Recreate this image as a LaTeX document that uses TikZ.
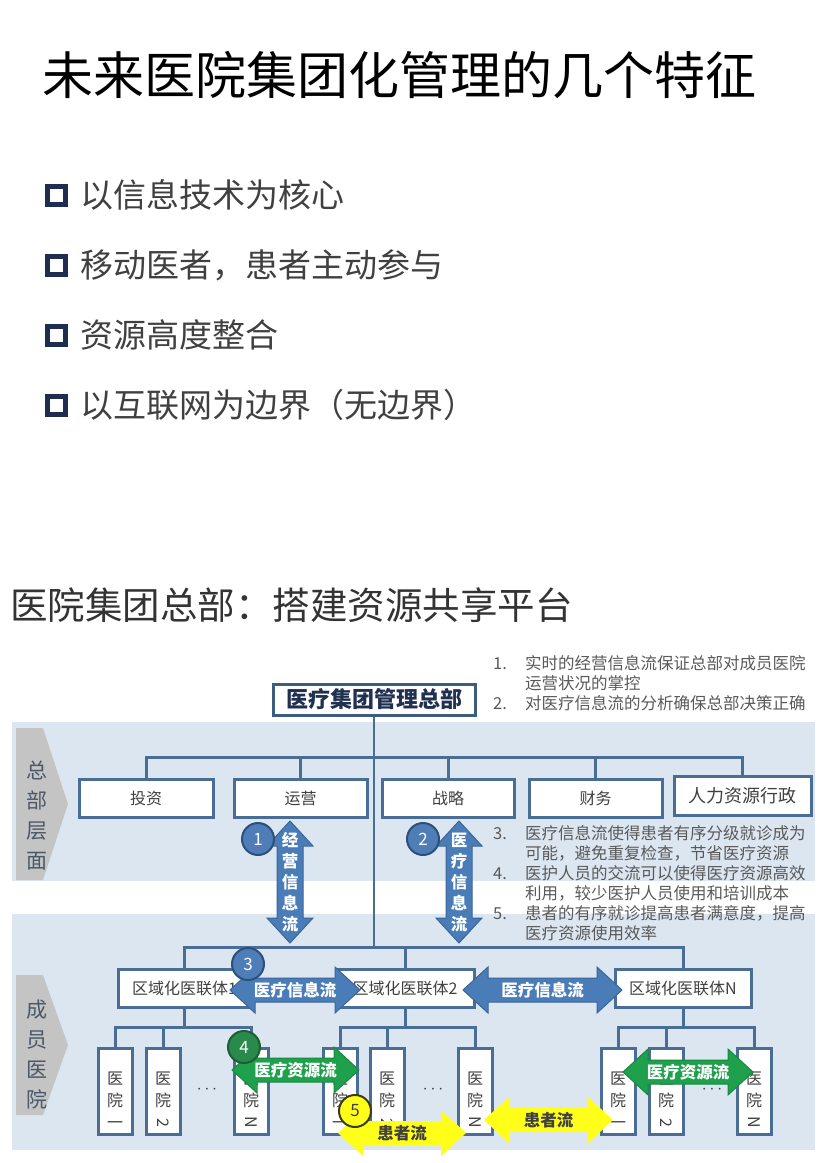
\documentclass[tikz,border=0pt]{standalone}
\usepackage{fontspec}
\setmainfont{Noto Sans CJK SC}
\definecolor{boxblue}{HTML}{4A6D96}
\definecolor{hqblue}{HTML}{3E5C7E}
\definecolor{hqtext}{HTML}{1F3050}
\definecolor{bandcol}{HTML}{DCE6F1}
\definecolor{chevcol}{HTML}{C4C4C4}
\definecolor{chevtxt}{HTML}{4A5868}
\definecolor{infoblue}{HTML}{4A7CB8}
\definecolor{infoedge}{HTML}{3A6699}
\definecolor{badgeblue}{HTML}{4E7DB8}
\definecolor{badgeedge}{HTML}{2D4F7A}
\definecolor{resgreen}{HTML}{1FA04C}
\definecolor{resedge}{HTML}{178A3E}
\definecolor{badgegreen}{HTML}{2A8A4C}
\definecolor{badgegedge}{HTML}{1B5E33}
\definecolor{patyellow}{HTML}{FFFF1A}
\definecolor{badgeyedge}{HTML}{3C3C14}
\definecolor{txtgray}{HTML}{404040}
\definecolor{notegray}{HTML}{595959}
\definecolor{navy}{HTML}{1F2D50}
\newcommand\fsz[2]{\fontsize{#1}{#2}\selectfont}
\newcommand\sideways[1]{\rotatebox[origin=c]{-90}{#1}}
% horizontal double arrow: name, x1, x2, y, style, label
\newcommand\flowH[6]{%
  \path[#5] (#2,#4) -- (#2+25,#4-23) -- (#2+25,#4-12) -- (#3-25,#4-12) -- (#3-25,#4-23)
    -- (#3,#4) -- (#3-25,#4+23) -- (#3-25,#4+12) -- (#2+25,#4+12) -- (#2+25,#4+23) -- cycle;
  \node[flowtext] (#1) at ({(#2+#3)/2},#4) {#6};}
% vertical double arrow: name, x, y1, y2, style, label
\newcommand\flowV[6]{%
  \path[#5] (#2,#3) -- (#2+23,#3+25) -- (#2+13,#3+25) -- (#2+13,#4-25) -- (#2+23,#4-25)
    -- (#2,#4) -- (#2-23,#4-25) -- (#2-13,#4-25) -- (#2-13,#3+25) -- (#2-23,#3+25) -- cycle;
  \node[flowtext] (#1) at (#2,{(#3+#4)/2}) {#6};}
\begin{document}
\begin{tikzpicture}[x=1pt, y=-1pt,
  tree/.style={draw=boxblue, line width=3pt},
  trunk/.style={draw=boxblue, line width=1.6pt},
  hqbox/.style={draw=hqblue, line width=3pt, fill=white, minimum width=202, minimum height=31,
    text=hqtext, font=\fsz{22}{22}\bfseries, inner sep=0},
  dept/.style={draw=boxblue, line width=3pt, fill=white, minimum height=38, text=txtgray,
    font=\fsz{16}{16}, inner sep=0},
  hosp/.style={draw=boxblue, line width=3pt, fill=white, minimum width=34, minimum height=86},
  hosplabel/.style={text=txtgray, font=\fsz{16}{22}, align=center, inner sep=0},
  chevtext/.style={text=chevtxt, font=\fsz{21}{30}, align=center, inner sep=0},
  flowtext/.style={text=white, font=\fsz{16.5}{21}\bfseries, align=center, inner sep=0},
  blueflow/.style={fill=infoblue, draw=infoedge, line width=1pt},
  greenflow/.style={fill=resgreen, draw=resedge, line width=1pt},
  yellowflow/.style={fill=patyellow},
  badge/.style={circle, minimum size=32, inner sep=0, line width=2pt, text=white, font=\fsz{17}{17}},
  note/.style={text=notegray, font=\fsz{16.5}{20}, inner sep=0, anchor=north west},
  bullet/.style={text=txtgray, font=\fsz{33}{33}, anchor=west, inner sep=0}]
\useasboundingbox (0,0) rectangle (831,1163);

% --- 标题与要点 ---
\node[anchor=west, inner sep=0, font=\fsz{51}{51}] (title) at (42,75) {未来医院集团化管理的几个特征};
\foreach \t [count=\i] in {以信息技术为核心, 移动医者，患者主动参与, 资源高度整合, 以互联网为边界（无边界）} {
  \pgfmathsetmacro\yy{125+70*\i}
  \draw[navy, line width=5pt] (47.5,\yy-9) rectangle (65.5,\yy+9);
  \node[bullet] (point\i) at (80,\yy) {\t};
}
\node[anchor=west, inner sep=0, text=black!80, font=\fsz{37.5}{37.5}] (subtitle) at (10,605) {医院集团总部：搭建资源共享平台};

% --- 背景色带与层面标签 ---
\fill[bandcol] (12,722) rectangle (815,881);
\fill[bandcol] (12,914) rectangle (815,1150);
\fill[chevcol] (16,728) -- (43,728) -- (68,804) -- (43,880) -- (16,880) -- cycle;
\fill[chevcol] (16,975) -- (43,975) -- (68,1045) -- (43,1115) -- (16,1115) -- cycle;
\node[chevtext] (hqlevel) at (37,816) {总\\部\\层\\面};
\node[chevtext] (memberlevel) at (37,1055) {成\\员\\医\\院};

% --- 总部 ---
\node[hqbox] (hq) at (374,699.5) {医疗集团管理总部};
\node[dept, minimum width=134] (invest) at (146,798) {投资};
\node[dept, minimum width=133] (operate) at (300.5,798) {运营};
\node[dept, minimum width=132] (strategy) at (448,798) {战略};
\node[dept, minimum width=133] (finance) at (595.5,798) {财务};
\node[dept, minimum width=137, minimum height=39, font=\fsz{18}{18}] (hr) at (742.5,795.5) {人力资源行政};

\coordinate (bus1) at (374,757);
\coordinate (bus2) at (374,947);
\coordinate (gbus) at (0,1027);
\draw[tree] (invest.north) |- (bus1) -| (hr.north);
\foreach \n in {operate,strategy,finance}
  \draw[tree] (\n.north) -- (\n.north |- bus1);
\draw[trunk] (hq.south) -- (bus2);

% --- 医联体与成员医院 ---
\node[dept, minimum width=133] (region1) at (184.5,988) {区域化医联体1};
\node[dept, minimum width=138] (region2) at (405,988) {区域化医联体2};
\node[dept, minimum width=136] (region3) at (683,988) {区域化医联体N};
\draw[tree] (region1.north) |- (bus2) -| (region3.north);
\draw[tree] (region2.north) -- (region2.north |- bus2);

\foreach \g/\xa/\xb/\xn/\xd in {1/115/163/251/207, 2/340/387/475/433, 3/618/666/754/712} {
  \node[hosp] (h\g-a) at (\xa,1091) {};
  \node[hosp] (h\g-b) at (\xb,1091) {};
  \node[hosp] (h\g-n) at (\xn,1091) {};
  \node[hosplabel] at ([yshift=-9pt]h\g-a.center) {医\\院\\一};
  \node[hosplabel] at ([yshift=-9pt]h\g-b.center) {医\\院\\\sideways{2}};
  \node[hosplabel] at ([yshift=-9pt]h\g-n.center) {医\\院\\\sideways{N}};
  \node[text=txtgray, font=\fsz{18}{18}] (dots\g) at (\xd,1090) {$\cdots$};
  \draw[tree] (h\g-a.north) |- (region\g.south |- gbus) -| (h\g-n.north);
  \draw[tree] (region\g.south) -- (region\g.south |- gbus);
  \draw[tree] (h\g-b.north) -- (h\g-b.north |- gbus);
}

% --- 信息流、资源流、患者流 ---
\flowV{opflow}{290}{821}{943}{blueflow}{经\\营\\信\\息\\流}
\flowV{medflow}{459}{821}{943}{blueflow}{医\\疗\\信\\息\\流}
\flowH{info1}{230}{360}{990}{blueflow}{医疗信息流}
\flowH{info2}{463}{622}{990}{blueflow}{医疗信息流}
\flowH{res1}{232}{359}{1070}{greenflow}{医疗资源流}
\flowH{res2}{623}{753}{1072}{greenflow}{医疗资源流}
\flowH{pat1}{338}{466}{1133}{yellowflow}{\textcolor{txtgray}{患者流}}
\flowH{pat2}{484}{613}{1120}{yellowflow}{\textcolor{txtgray}{患者流}}

\node[badge, fill=badgeblue, draw=badgeedge] (n1) at (258,839) {1};
\node[badge, fill=badgeblue, draw=badgeedge] (n2) at (423,839) {2};
\node[badge, fill=badgeblue, draw=badgeedge] (n3) at (248,964) {3};
\node[badge, fill=badgegreen, draw=badgegedge] (n4) at (244,1047) {4};
\node[badge, fill=patyellow, draw=badgeyedge, text=txtgray] (n5) at (355,1111) {5};

% --- 说明文字 ---
\node[note] (notesA) at (493,655) {\begin{tabular}{@{}p{32pt}@{}l@{}}
  1. & 实时的经营信息流保证总部对成员医院\\
     & 运营状况的掌控\\
  2. & 对医疗信息流的分析确保总部决策正确
\end{tabular}};
\node[note] (notesB) at (493,825) {\begin{tabular}{@{}p{32pt}@{}l@{}}
  3. & 医疗信息流使得患者有序分级就诊成为\\
     & 可能，避免重复检查，节省医疗资源\\
  4. & 医护人员的交流可以使得医疗资源高效\\
     & 利用，较少医护人员使用和培训成本\\
  5. & 患者的有序就诊提高患者满意度，提高\\
     & 医疗资源使用效率
\end{tabular}};
\end{tikzpicture}
\end{document}
